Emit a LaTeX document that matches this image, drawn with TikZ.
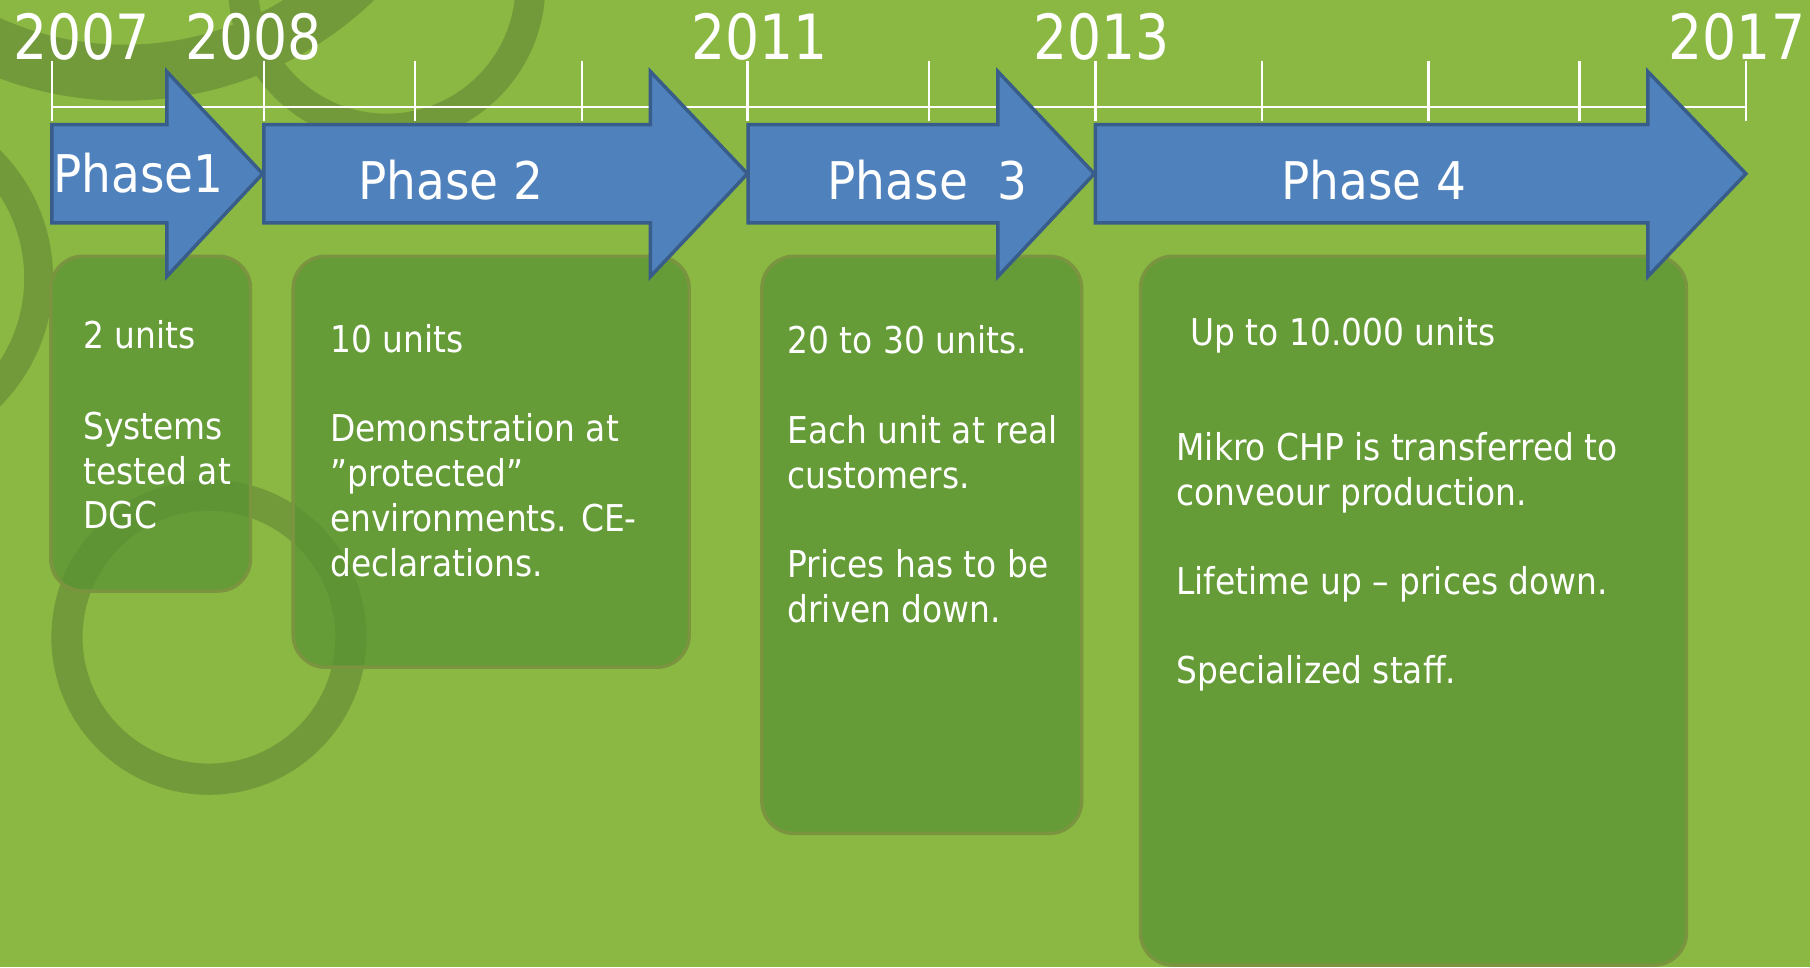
\documentclass[tikz,border=0pt]{standalone}
\usepackage{fontspec}
\setmainfont[FakeStretch=0.89]{DejaVu Sans}
\newfontfamily\yearfont[FakeStretch=0.86]{DejaVu Sans}
\newfontfamily\phasefont[FakeStretch=0.905]{DejaVu Sans}
\definecolor{bg}{HTML}{8AB842}
\definecolor{ringc}{HTML}{72993A}
\definecolor{boxf}{RGB}{89,147,52}
\definecolor{boxd}{HTML}{7A9440}
\definecolor{arrf}{HTML}{4F81BD}
\definecolor{arrd}{HTML}{385D8A}
\tikzset{
  ring/.style={draw=ringc, line width=27pt},
  phasebox/.style={draw=boxd, line width=3pt, fill=boxf, fill opacity=0.75, rounded corners=28pt},
  phasearrow/.style={draw=arrd, fill=arrf, line width=3pt, line join=miter},
  tl/.style={draw=white, line width=2pt},
  yearlbl/.style={text=white, anchor=base, inner sep=0pt, font=\yearfont\fontsize{54}{60}\selectfont},
  phaselbl/.style={text=white, anchor=base, inner sep=0pt, font=\phasefont\fontsize{45}{52}\selectfont},
  boxtxt/.style={text=white, anchor=base west, inner sep=0pt, font=\fontsize{32}{38}\selectfont}
}
\begin{document}
\begin{tikzpicture}[x=1pt,y=-1pt]
\useasboundingbox (0,0) rectangle (1568,838);
\fill[bg] (0,0) rectangle (1568,838);
\begin{scope}
\clip (0,0) rectangle (1568,838);
% decorative rings
\draw[ring, line width=48.5pt] (108,-224) circle[radius=287pt];
\draw[ring, line width=26pt] (335,-13) circle[radius=124.5pt];
\draw[ring, line width=25pt] (-111,241) circle[radius=144.5pt];
\draw[ring] (181,552) circle[radius=123pt];
% boxes
\draw[phasebox] (44,222) rectangle (217,512);
\draw[phasebox] (254,222) rectangle (597,578);
\draw[phasebox] (660,222) rectangle (937,722);
\draw[phasebox] (988,222) rectangle (1461,836);
\end{scope}
% timeline
\coordinate (t0) at (45,92.4);
\coordinate (t1) at (1512.5,92.4);
\draw[tl] (t0) -- (t1);
\foreach \x [count=\i] in {45,228.5,359.8,504,647.5,805,949,1093.4,1237.6,1368.3,1512.5}{
  \coordinate (tka\i) at (\x,53);
  \coordinate (tkb\i) at (\x,104.8);
  \draw[tl] (tka\i) -- (tkb\i);
}
% years
\node[yearlbl] (y2007) at (70.5,51.4) {2007};
\node[yearlbl] (y2008) at (219.5,51.4) {2008};
\node[yearlbl] (y2011) at (658,51.4) {2011};
\node[yearlbl] (y2013) at (954,51.4) {2013};
\node[yearlbl] (y2017) at (1504.7,51.4) {2017};
% arrows
\draw[phasearrow] (45,108) -- (144.5,108) -- (144.5,62) -- (227.5,150.5) -- (144.5,239.5) -- (144.5,193) -- (45,193) -- cycle;
\draw[phasearrow] (228.5,108) -- (563.5,108) -- (563.5,62) -- (647.5,150.5) -- (563.5,239.5) -- (563.5,193) -- (228.5,193) -- cycle;
\draw[phasearrow] (648,108) -- (864.5,108) -- (864.5,62) -- (948,150.5) -- (864.5,239.5) -- (864.5,193) -- (648,193) -- cycle;
\draw[phasearrow] (949,108) -- (1427.5,108) -- (1427.5,62) -- (1512.5,150.5) -- (1427.5,239.5) -- (1427.5,193) -- (949,193) -- cycle;
\node[phaselbl] (p1) at (119.8,167) {Phase1};
\node[phaselbl] (p2) at (390.7,172.7) {Phase 2};
\node[phaselbl] (p3) at (803.6,172.8) {Phase\ \ 3};
\node[phaselbl] (p4) at (1190.4,172.8) {Phase 4};
% box 1 text
\node[boxtxt] (b1a) at (72,301.8) {2 units};
\node[boxtxt] (b1b) at (72,380.5) {Systems};
\node[boxtxt] (b1c) at (72,419.3) {tested at};
\node[boxtxt] (b1d) at (72,458) {DGC};
% box 2 text
\node[boxtxt] (b2a) at (286,305.5) {10 units};
\node[boxtxt] (b2b) at (286,382.6) {Demonstration at};
\node[boxtxt] (b2c) at (286,421.6) {”protected”};
\node[boxtxt] (b2d) at (286,460.6) {environments. CE-};
\node[boxtxt] (b2e) at (286,499.6) {declarations.};
% box 3 text
\node[boxtxt] (b3a) at (682,306) {20 to 30 units.};
\node[boxtxt] (b3b) at (682,384) {Each unit at real};
\node[boxtxt] (b3c) at (682,423) {customers.};
\node[boxtxt] (b3d) at (682,500.5) {Prices has to be};
\node[boxtxt] (b3e) at (682,539.5) {driven down.};
% box 4 text
\node[boxtxt] (b4a) at (1031,299) {Up to 10.000 units};
\node[boxtxt] (b4b) at (1019,399) {Mikro CHP is transferred to};
\node[boxtxt] (b4c) at (1019,437.7) {conveour production.};
\node[boxtxt] (b4d) at (1019,514.6) {Lifetime up – prices down.};
\node[boxtxt] (b4e) at (1019,592) {Specialized staff.};
\end{tikzpicture}
\end{document}
